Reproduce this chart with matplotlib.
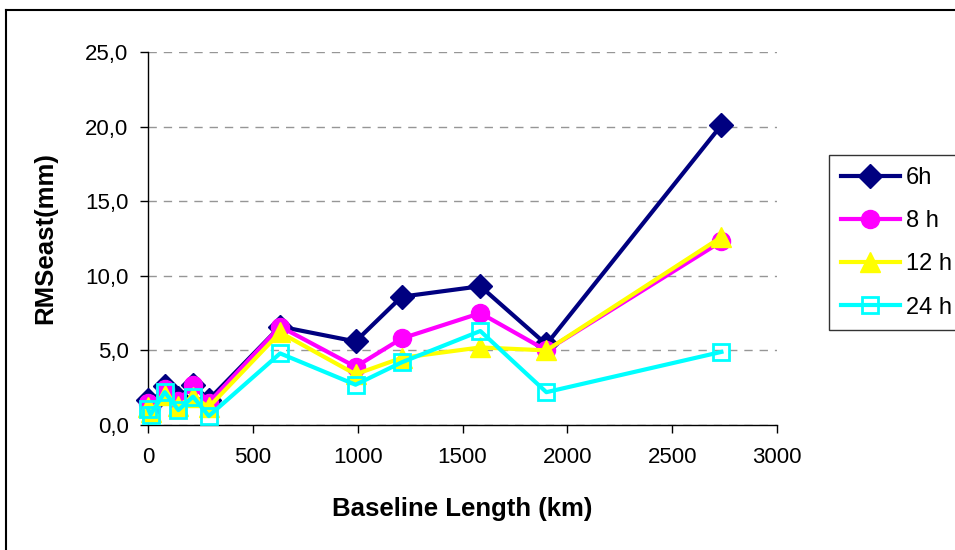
import matplotlib
matplotlib.use("Agg")
import matplotlib.pyplot as plt
from matplotlib.lines import Line2D
from matplotlib.ticker import FuncFormatter

plt.rcParams['font.family'] = ['Liberation Sans', 'DejaVu Sans']

baseline_km = [0, 12, 80, 145, 215, 290, 630, 990, 1210, 1585, 1900, 2735]
rms_6h = [1.7, 1.4, 2.6, 1.8, 2.7, 1.7, 6.6, 5.6, 8.6, 9.3, 5.4, 20.1]
rms_8h = [1.5, 1.2, 2.4, 1.6, 2.7, 1.5, 6.6, 3.9, 5.8, 7.5, 5.0, 12.3]
rms_12h = [1.2, 0.9, 2.0, 1.3, 1.9, 1.2, 6.2, 3.4, 4.5, 5.2, 5.0, 12.6]
rms_24h = [1.1, 0.7, 2.2, 1.0, 1.9, 0.6, 4.8, 2.7, 4.2, 6.3, 2.2, 4.9]

series_labels = ["6h", "8 h", "12 h", "24 h"]
x_ticks = [0, 500, 1000, 1500, 2000, 2500, 3000]
y_ticks = [0, 5, 10, 15, 20, 25]

fig = plt.figure(figsize=(9.55, 5.5), dpi=100)
W, H = 955, 550
ax = fig.add_axes([148 / W, 1 - 425 / H, (777 - 148) / W, (425 - 52) / H])

styles = [
    dict(color="#000080", marker="D", markersize=12, markerfacecolor="#000080", markeredgecolor="#000080"),
    dict(color="#FF00FF", marker="o", markersize=13, markerfacecolor="#FF00FF", markeredgecolor="#FF00FF"),
    dict(color="#FFFF00", marker="^", markersize=14, markerfacecolor="#FFFF00", markeredgecolor="#FFFF00"),
    dict(color="#00FFFF", marker="s", markersize=12, markerfacecolor="none", markeredgecolor="#00FFFF", markeredgewidth=2),
]
for vals, lab, st in zip([rms_6h, rms_8h, rms_12h, rms_24h], series_labels, styles):
    ax.plot(baseline_km, vals, linewidth=3, label=lab, clip_on=False, zorder=3, **st)

ax.set_xlim(0, 3000)
ax.set_ylim(0, 25)
ax.set_xticks(x_ticks)
ax.set_yticks(y_ticks)
ax.yaxis.set_major_formatter(FuncFormatter(lambda v, p: f"{v:.1f}".replace(".", ",")))
ax.tick_params(axis="both", labelsize=16, direction="out", length=6, color="black", width=1)
ax.tick_params(axis="y", pad=8)
ax.tick_params(axis="x", pad=10)

for s in ["top", "right"]:
    ax.spines[s].set_visible(False)
for s in ["left", "bottom"]:
    ax.spines[s].set_color("black")
    ax.spines[s].set_linewidth(1)

ax.yaxis.grid(True, linestyle=(0, (6, 5)), color="#969696", linewidth=1)
ax.set_axisbelow(True)

ax.set_xlabel("Baseline Length (km)", fontsize=18.5, fontweight="bold", labelpad=21)
ax.set_ylabel("RMSeast(mm)", fontsize=18.5, fontweight="bold", labelpad=20)

leg = fig.legend(loc="upper left", bbox_to_anchor=(829 / W, 1 - 155 / H),
                 fontsize=17, frameon=True, fancybox=False, edgecolor="black",
                 borderpad=0.5, labelspacing=0.9, handlelength=2.5, handletextpad=0.25,
                 borderaxespad=0)
leg.get_frame().set_linewidth(1)

# chart-area frame along the left and top edges
fig.add_artist(Line2D([6 / W, 6 / W], [0, 1 - 10 / H], color="black", linewidth=1.5))
fig.add_artist(Line2D([6 / W, 1], [1 - 10 / H, 1 - 10 / H], color="black", linewidth=1.5))

fig.savefig("out.png", dpi=100)
